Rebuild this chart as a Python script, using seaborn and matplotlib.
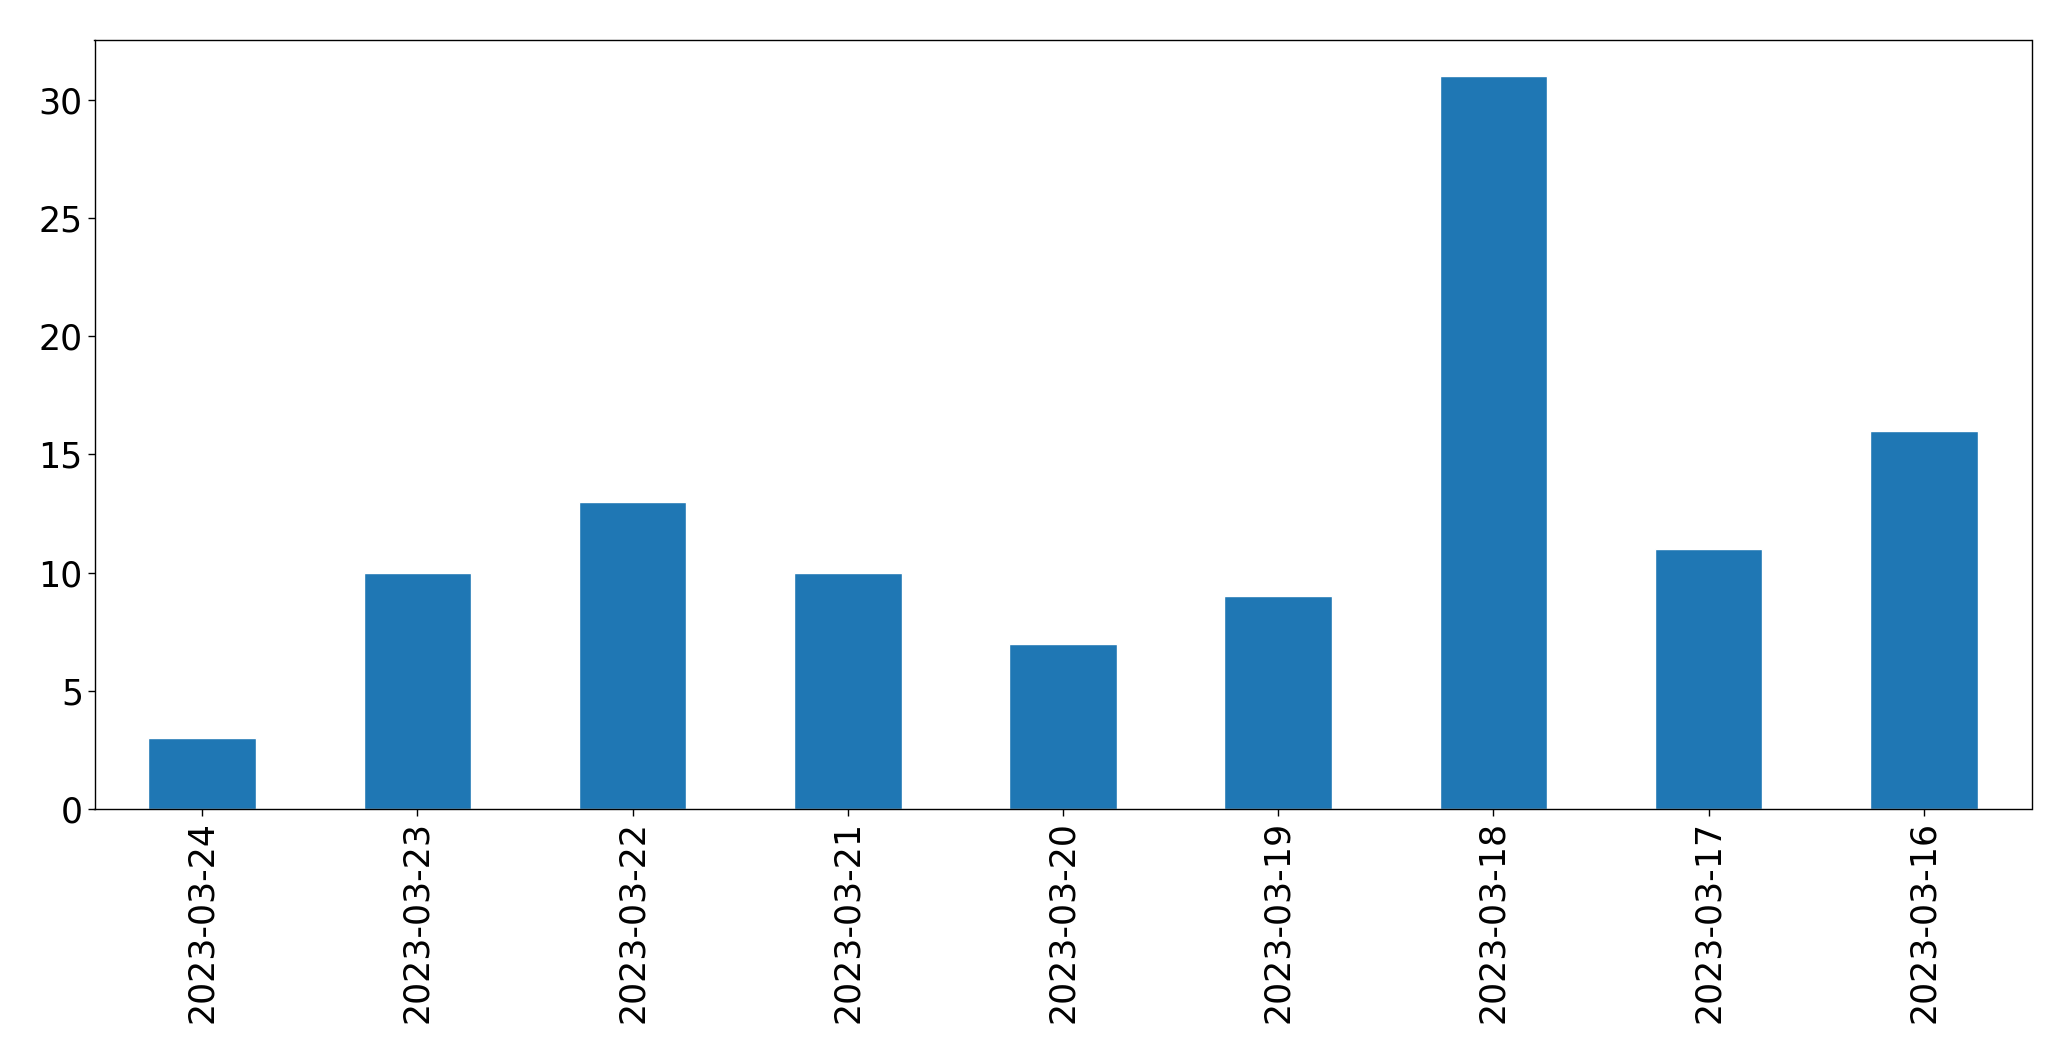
import matplotlib
matplotlib.use("Agg")
import matplotlib.pyplot as plt
import seaborn as sns
import pandas as pd

dates = ["2023-03-24", "2023-03-23", "2023-03-22", "2023-03-21", "2023-03-20",
         "2023-03-19", "2023-03-18", "2023-03-17", "2023-03-16"]
counts = [3, 10, 13, 10, 7, 9, 31, 11, 16]

df = pd.DataFrame({"date": dates, "count": counts})

sns.set_style("white")
plt.rcParams["font.family"] = ["DejaVu Sans"]
plt.rcParams["text.color"] = "black"
plt.rcParams["xtick.color"] = "black"
plt.rcParams["ytick.color"] = "black"

fig = plt.figure(figsize=(20.71, 10.61), dpi=100)
ax = fig.add_axes([94.5 / 2071, 1 - 809 / 1061, (2031.5 - 94.5) / 2071, (809 - 39.5) / 1061])

sns.barplot(data=df, x="date", y="count", order=dates, color="#1f77b4",
            saturation=1, width=0.5, ax=ax)

ax.set_xlim(-0.5, len(dates) - 0.5)
ax.set_ylim(0, max(counts) * 1.05)
ax.set_xlabel("")
ax.set_ylabel("")
ax.set_yticks([0, 5, 10, 15, 20, 25, 30])
ax.tick_params(axis="both", labelsize=25, length=4.9, width=1, color="black",
               labelcolor="black", bottom=True, left=True)
plt.setp(ax.get_xticklabels(), rotation=90)
for s in ax.spines.values():
    s.set_visible(True)
    s.set_color("black")
    s.set_linewidth(1)

fig.savefig("out.png", dpi=100)
